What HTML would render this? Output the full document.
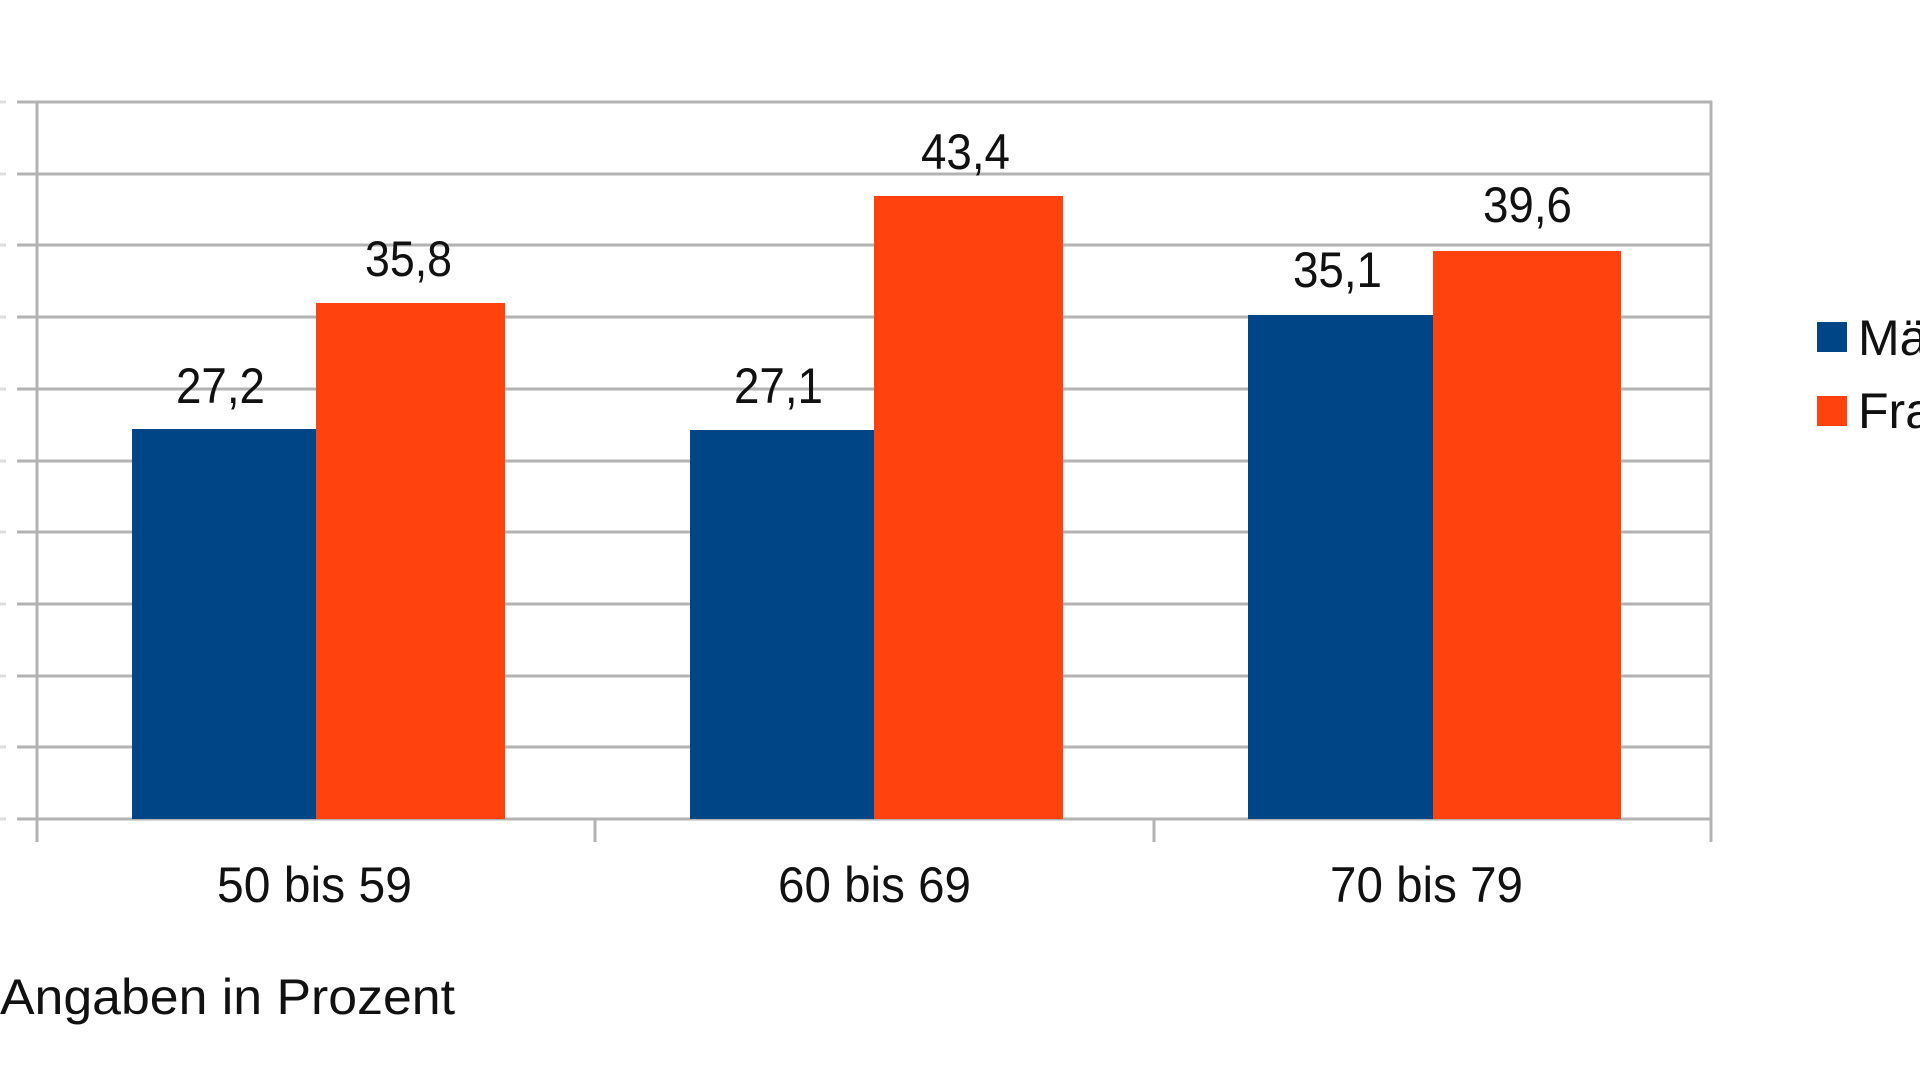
<!DOCTYPE html>
<html><head><meta charset="utf-8"><style>html,body{margin:0;padding:0;background:#fff;}svg{display:block}</style></head>
<body>
<svg width="1920" height="1080" viewBox="0 0 1920 1080" xmlns="http://www.w3.org/2000/svg" font-family="Liberation Sans, Arial, sans-serif" fill="#111">
<g stroke="#b3b3b3" stroke-width="3">
<line x1="17" y1="102" x2="1712" y2="102"/>
<line x1="17" y1="174" x2="1712" y2="174"/>
<line x1="17" y1="245" x2="1712" y2="245"/>
<line x1="17" y1="317" x2="1712" y2="317"/>
<line x1="17" y1="389" x2="1712" y2="389"/>
<line x1="17" y1="461" x2="1712" y2="461"/>
<line x1="17" y1="532" x2="1712" y2="532"/>
<line x1="17" y1="604" x2="1712" y2="604"/>
<line x1="17" y1="676" x2="1712" y2="676"/>
<line x1="17" y1="747" x2="1712" y2="747"/>
<line x1="17" y1="819" x2="1712" y2="819"/>
<line x1="37" y1="101" x2="37" y2="842"/>
<line x1="1711" y1="101" x2="1711" y2="842"/>
<line x1="595" y1="819" x2="595" y2="842"/>
<line x1="1154" y1="819" x2="1154" y2="842"/>
</g>
<g stroke="#ddd" stroke-width="3">
<line x1="0" y1="102" x2="6" y2="102"/><line x1="0" y1="174" x2="6" y2="174"/><line x1="0" y1="245" x2="6" y2="245"/><line x1="0" y1="317" x2="6" y2="317"/><line x1="0" y1="389" x2="6" y2="389"/><line x1="0" y1="461" x2="6" y2="461"/><line x1="0" y1="532" x2="6" y2="532"/><line x1="0" y1="604" x2="6" y2="604"/><line x1="0" y1="676" x2="6" y2="676"/><line x1="0" y1="747" x2="6" y2="747"/><line x1="0" y1="819" x2="6" y2="819"/>
</g>
<rect x="132" y="429" width="184" height="390" fill="#004586"/>
<rect x="316" y="303" width="189" height="516" fill="#ff420e"/>
<rect x="690" y="430" width="184" height="389" fill="#004586"/>
<rect x="874" y="196" width="189" height="623" fill="#ff420e"/>
<rect x="1248" y="315" width="185" height="504" fill="#004586"/>
<rect x="1433" y="251" width="188" height="568" fill="#ff420e"/>
<g font-size="50">
<text x="176" y="403" textLength="89" lengthAdjust="spacingAndGlyphs">27,2</text>
<text x="365" y="276" textLength="87" lengthAdjust="spacingAndGlyphs">35,8</text>
<text x="734" y="403" textLength="89" lengthAdjust="spacingAndGlyphs">27,1</text>
<text x="921" y="169" textLength="89" lengthAdjust="spacingAndGlyphs">43,4</text>
<text x="1293" y="287" textLength="89" lengthAdjust="spacingAndGlyphs">35,1</text>
<text x="1483" y="222" textLength="89" lengthAdjust="spacingAndGlyphs">39,6</text>
<text x="217" y="902" textLength="195" lengthAdjust="spacingAndGlyphs">50 bis 59</text>
<text x="778" y="902" textLength="193" lengthAdjust="spacingAndGlyphs">60 bis 69</text>
<text x="1330" y="902" textLength="193" lengthAdjust="spacingAndGlyphs">70 bis 79</text>
<text x="0" y="1014" textLength="455" lengthAdjust="spacingAndGlyphs">Angaben in Prozent</text>
<text x="1858" y="355">Männer</text>
<text x="1858" y="428">Frauen</text>
</g>
<rect x="1817" y="322" width="30" height="30" fill="#004586"/>
<rect x="1817" y="396" width="30" height="30" fill="#ff420e"/>
</svg>
</body></html>
